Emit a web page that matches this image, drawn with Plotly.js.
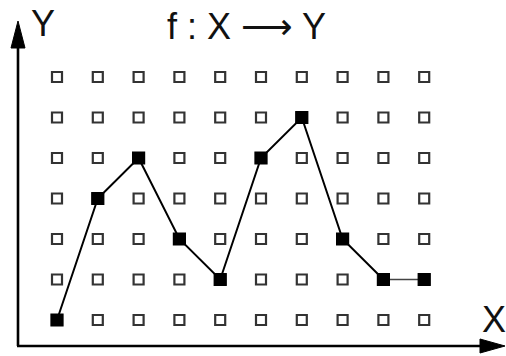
<!DOCTYPE html>
<html>
<head>
<meta charset="utf-8">
<script src="https://cdn.plot.ly/plotly-3.0.1.min.js"></script>
<style>html,body{margin:0;padding:0;background:#fff;}#chart{width:506px;height:356px;}</style>
</head>
<body>
<div id="chart"></div>
<script>
// Data
var gridX = [0, 1, 2, 3, 4, 5, 6, 7, 8, 9];
var gridY = [0, 1, 2, 3, 4, 5, 6];
var fX = [0, 1, 2, 3, 4, 5, 6, 7, 8, 9];
var fY = [0, 3, 4, 2, 1, 4, 5, 2, 1, 1];
var titleText = "f : X <span style=\"font-family:'DejaVu Sans'\">\u27F6</span> Y";
var xLabel = "X";
var yLabel = "Y";

// Build grid
var gx = [], gy = [];
gridY.forEach(function (yy) { gridX.forEach(function (xx) { gx.push(xx); gy.push(yy); }); });

var W = 506, H = 356, L = 18, R = 0, T = 21, B = 9;
var pw = W - L - R, ph = H - T - B;
function px(x) { return (x - L) / pw; }
function py(y) { return (H - B - y) / ph; }

var n = fX.length;
var traces = [
  { x: gx, y: gy, type: 'scatter', mode: 'markers', hoverinfo: 'skip',
    marker: { symbol: 'square-open', size: 10, color: '#333', line: { width: 2.2, color: '#333' } } },
  { x: fX.slice(0, n - 1), y: fY.slice(0, n - 1), type: 'scatter', mode: 'lines',
    line: { color: '#000', width: 2 } },
  { x: fX.slice(n - 2), y: fY.slice(n - 2), type: 'scatter', mode: 'lines',
    line: { color: '#444', width: 1.4 } },
  { x: fX, y: fY, type: 'scatter', mode: 'markers',
    marker: { symbol: 'square', size: 12, color: '#000', line: { width: 1.2, color: '#000' } } }
];

var fnt = { family: 'Liberation Sans, Arial, sans-serif', size: 36, color: '#111' };
var layout = {
  width: W, height: H,
  margin: { l: L, r: R, t: T, b: B, pad: 0 },
  paper_bgcolor: '#fff', plot_bgcolor: '#fff',
  showlegend: false,
  xaxis: { range: [-0.956, 11.005], showgrid: false, zeroline: false, showticklabels: false, ticks: '', showline: false },
  yaxis: { range: [-0.667, 7.383], showgrid: false, zeroline: false, showticklabels: false, ticks: '', showline: false },
  shapes: [
    { type: 'line', xref: 'paper', yref: 'paper', x0: px(18), y0: py(346), x1: px(18), y1: py(40), line: { color: '#000', width: 2.6 } },
    { type: 'line', xref: 'paper', yref: 'paper', x0: px(17), y0: py(346), x1: px(490), y1: py(346), line: { color: '#000', width: 2.6 } },
    { type: 'path', xref: 'paper', yref: 'paper', fillcolor: '#000', line: { color: '#000', width: 1 },
      path: 'M ' + px(18) + ' ' + py(21) + ' L ' + px(11) + ' ' + py(48) + ' L ' + px(25) + ' ' + py(48) + ' Z' },
    { type: 'path', xref: 'paper', yref: 'paper', fillcolor: '#000', line: { color: '#000', width: 1 },
      path: 'M ' + px(505) + ' ' + py(346) + ' L ' + px(480) + ' ' + py(339) + ' L ' + px(480) + ' ' + py(353) + ' Z' }
  ],
  annotations: [
    { text: titleText, xref: 'paper', yref: 'paper', x: px(246), y: py(26), xanchor: 'center', yanchor: 'middle', showarrow: false, font: fnt },
    { text: yLabel, xref: 'paper', yref: 'paper', x: px(43), y: py(24), xanchor: 'center', yanchor: 'middle', showarrow: false, font: fnt },
    { text: xLabel, xref: 'paper', yref: 'paper', x: px(494), y: py(319), xanchor: 'center', yanchor: 'middle', showarrow: false, font: fnt }
  ]
};
Plotly.newPlot('chart', traces, layout, { displayModeBar: false, staticPlot: true });
</script>
</body>
</html>
